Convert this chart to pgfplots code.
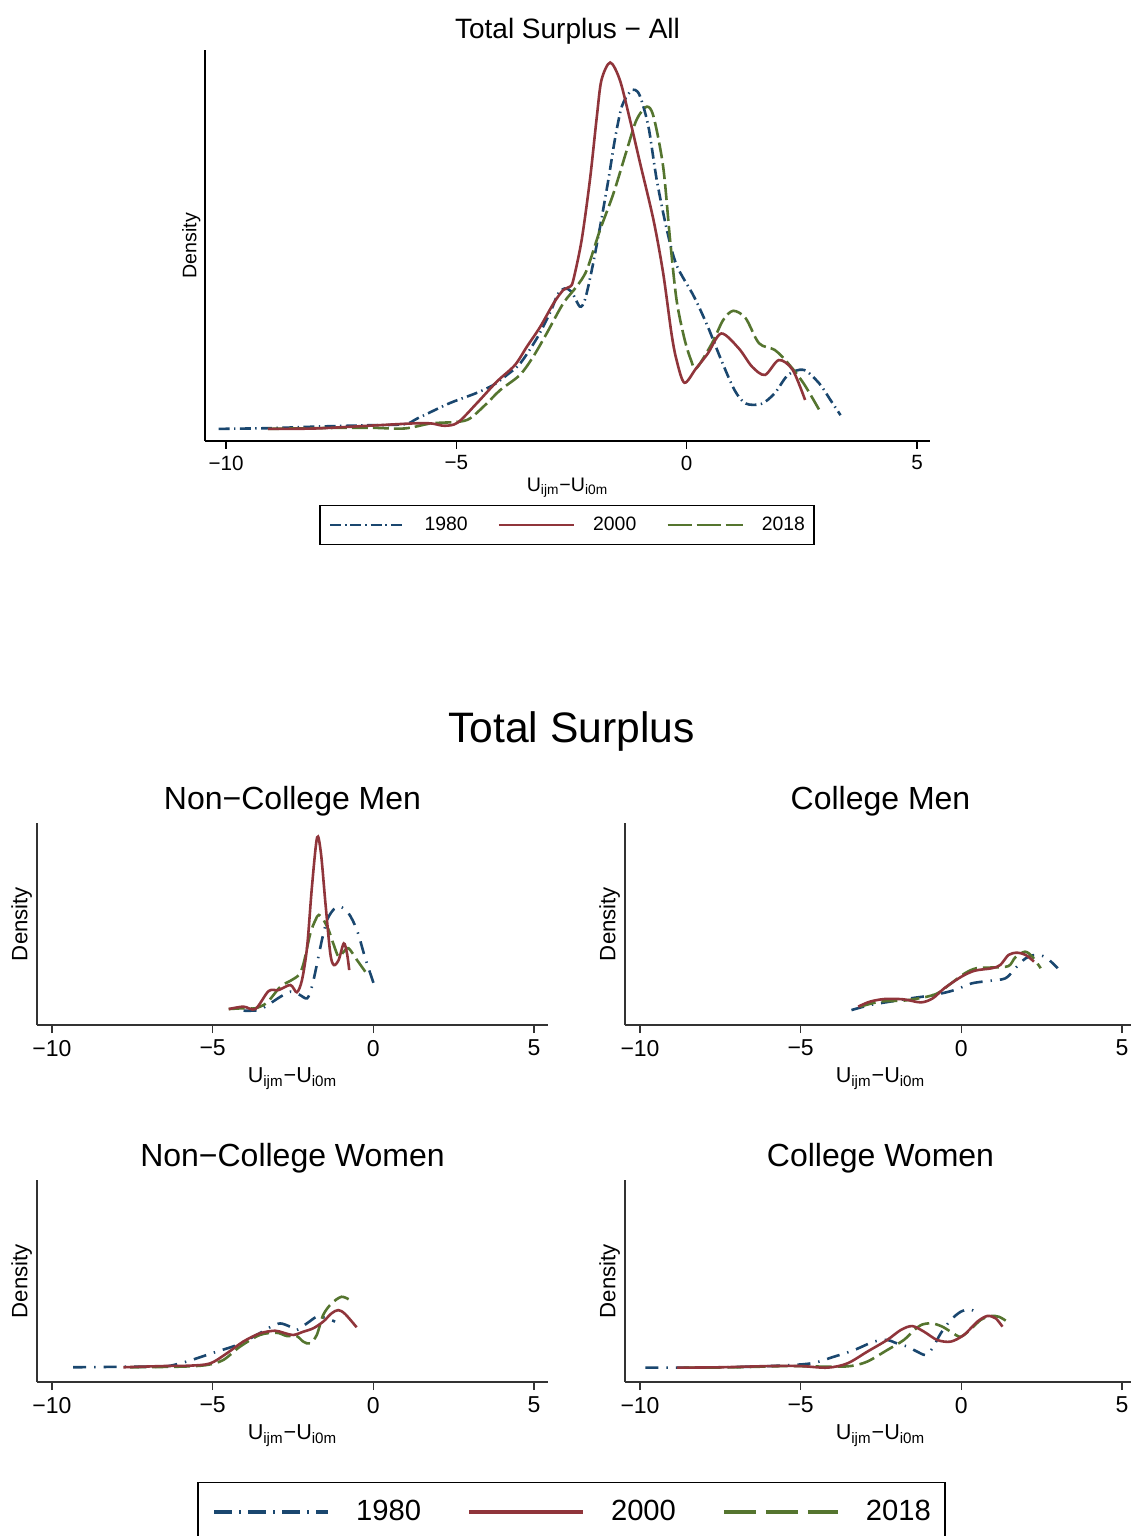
\documentclass[border=0pt]{standalone}
\usepackage{fontspec}
\setmainfont{Liberation Sans}
\usepackage{graphicx}
\usepackage{pgfplots}
\pgfplotsset{compat=1.18}

\definecolor{c1980}{RGB}{26,71,111}
\definecolor{c2000}{RGB}{144,53,59}
\definecolor{c2018}{RGB}{85,117,47}

\pgfplotsset{
  kd/.style={
    scale only axis,
    axis x line*=bottom, axis y line*=left,
    ymin=0, ymax=1, ytick=\empty,
    xtick={-10,-5,0,5}, xticklabels={−10,−5,0,5},
    tick align=outside,
    every axis title shift=0pt,
    ylabel={Density},
    xlabel={U\textsubscript{ijm}−U\textsubscript{i0m}},
  },
  bigpanel/.style={kd,
    width=362.5pt, height=195.5pt,
    xmin=-10.456, xmax=5.282,
    axis line style={black, line width=0.8pt},
    tick style={black, line width=0.8pt},
    major tick length=3.8pt,
    xticklabel style={font=\fontsize{10.3}{12}\selectfont},
    title style={at={(axis description cs:0.5,1.0307)}, anchor=base,
      font=\fontsize{14}{16}\selectfont},
    xlabel style={at={(axis description cs:0.5,-0.128)}, anchor=base,
      font=\fontsize{9.8}{12}\selectfont},
    ylabel style={at={(axis description cs:-0.012,0.5)}, anchor=base,
      font=\fontsize{9.8}{12}\selectfont},
  },
  smallpanel/.style={kd,
    width=255.5pt, height=101pt,
    xmin=-10.467, xmax=5.436,
    axis line style={black!80, line width=0.7pt},
    tick style={black!80, line width=0.7pt},
    major tick length=4pt,
    xticklabel style={font=\fontsize{11.5}{13}\selectfont},
    title style={at={(axis description cs:0.5,1.067)}, anchor=base,
      font=\fontsize{16}{19}\selectfont},
    xlabel style={at={(axis description cs:0.5,-0.287)}, anchor=base,
      font=\fontsize{10.8}{13}\selectfont},
    ylabel style={at={(axis description cs:-0.019,0.5)}, anchor=base,
      font=\fontsize{11.1}{13}\selectfont},
  },
  y1980/.style={c1980, line width=1.3pt, smooth, dash pattern=on 5.5pt off 2.2pt on 0.7pt off 2.2pt},
  y2000/.style={c2000, line width=1.3pt, smooth},
  y2018/.style={c2018, line width=1.3pt, smooth, dash pattern=on 8pt off 2.5pt},
  s1980/.style={c1980, line width=1.3pt, smooth, dash pattern=on 6.5pt off 4pt on 0.7pt off 4pt},
  s2000/.style={c2000, line width=1.3pt, smooth},
  s2018/.style={c2018, line width=1.3pt, smooth, dash pattern=on 8pt off 3pt},
}

\begin{document}
\begin{tikzpicture}
\useasboundingbox (0,0) rectangle (565pt,-768pt);

% ---- top panel: all
\begin{axis}[bigpanel, at={(102.5pt,-220.5pt)}, anchor=south west,
  title={Total Surplus − All},
  legend columns=3,
  legend style={at={(axis description cs:0.4993,-0.2148)}, anchor=center,
    draw=black, line width=0.6pt, inner xsep=4.5pt, inner ysep=5.5pt,
    font=\fontsize{9.7}{11}\selectfont, nodes={inner sep=0pt},
    /tikz/every odd column/.append style={column sep=9pt},
    /tikz/every even column/.append style={column sep=15pt}},
  legend image code/.code={\draw[#1] (0pt,0pt) -- (37.5pt,0pt);},
]
\addplot[y1980, forget plot] coordinates {
(-10.16,0.031) (-9.0,0.033) (-8.0,0.037) (-7.0,0.040) (-6.13,0.043) (-5.84,0.058)
(-5.16,0.096) (-4.58,0.122) (-4.20,0.143) (-3.90,0.169) (-3.61,0.199) (-3.23,0.267)
(-2.94,0.335) (-2.80,0.375) (-2.65,0.390) (-2.50,0.382) (-2.32,0.344) (-2.21,0.361)
(-2.06,0.437) (-1.88,0.548) (-1.70,0.668) (-1.56,0.770) (-1.41,0.855) (-1.23,0.893)
(-1.12,0.898) (-1.01,0.881) (-0.83,0.804) (-0.65,0.668) (-0.43,0.540) (-0.22,0.450)
(0.16,0.369) (0.46,0.292) (0.75,0.207) (1.04,0.130) (1.28,0.096)
(1.62,0.095) (1.91,0.122) (2.20,0.169) (2.54,0.182) (2.88,0.147) (3.12,0.105) (3.34,0.066)
};
\addplot[y2018, forget plot] coordinates {
(-9.09,0.031) (-8.0,0.033) (-6.91,0.034) (-6.13,0.032) (-5.55,0.045) (-4.97,0.049)
(-4.70,0.058) (-4.34,0.096) (-4.05,0.130) (-3.62,0.169) (-3.33,0.216) (-3.04,0.275)
(-2.68,0.352) (-2.39,0.395) (-2.17,0.437) (-1.88,0.540) (-1.59,0.633) (-1.30,0.744)
(-1.09,0.821) (-0.87,0.855) (-0.72,0.830) (-0.51,0.701) (-0.36,0.514) (-0.22,0.361)
(-0.05,0.262) (0.10,0.205) (0.21,0.186) (0.55,0.250) (0.79,0.309) (1.01,0.333)
(1.28,0.314) (1.57,0.250) (1.91,0.233) (2.20,0.199) (2.54,0.147) (2.88,0.079)
};
\addplot[y2000, forget plot] coordinates {
(-9.09,0.031) (-8.07,0.032) (-6.91,0.039) (-5.94,0.045) (-5.55,0.045) (-5.26,0.039)
(-4.97,0.047) (-4.56,0.096) (-4.12,0.152) (-3.73,0.194) (-3.47,0.241) (-3.18,0.292)
(-2.89,0.352) (-2.68,0.386) (-2.53,0.395) (-2.46,0.412) (-2.28,0.514) (-2.10,0.668)
(-1.95,0.830) (-1.85,0.923) (-1.66,0.968) (-1.45,0.923) (-1.23,0.821) (-1.01,0.710)
(-0.72,0.565) (-0.51,0.429) (-0.33,0.275) (-0.22,0.207) (-0.05,0.149) (0.20,0.185)
(0.46,0.224) (0.75,0.275) (1.13,0.237) (1.42,0.190) (1.70,0.169) (2.00,0.207)
(2.30,0.182) (2.57,0.105)
};
\addlegendimage{c1980, line width=1.25pt, dash pattern=on 5.5pt off 1.8pt on 1pt off 1.8pt}
\addlegendentry{1980}
\addlegendimage{c2000, line width=1.25pt}
\addlegendentry{2000}
\addlegendimage{c2018, line width=1.25pt, dash pattern=on 12pt off 2.5pt}
\addlegendentry{2018}
\end{axis}

\node[anchor=base, font=\fontsize{21.3}{25}\selectfont] at (285.75pt,-371pt) {Total Surplus};

% ---- non-college men
\begin{axis}[smallpanel, at={(18.5pt,-512.5pt)}, anchor=south west,
  title={Non−College Men}]
\addplot[s1980] coordinates {
(-4.04,0.071) (-3.57,0.074) (-3.21,0.107) (-2.89,0.140) (-2.58,0.165) (-2.30,0.150)
(-2.06,0.132) (-1.91,0.190) (-1.75,0.305) (-1.60,0.421) (-1.44,0.520) (-1.23,0.573)
(-1.03,0.586) (-0.77,0.553) (-0.51,0.470) (-0.25,0.330) (0.01,0.206)
};
\addplot[s2018] coordinates {
(-4.50,0.079) (-4.04,0.083) (-3.67,0.083) (-3.31,0.111) (-2.89,0.190) (-2.58,0.219)
(-2.32,0.248) (-2.17,0.305) (-1.96,0.454) (-1.80,0.520) (-1.70,0.545) (-1.55,0.520)
(-1.39,0.470) (-1.23,0.396) (-1.08,0.338) (-0.92,0.363) (-0.77,0.380) (-0.51,0.322)
(-0.25,0.264)
};
\addplot[s2000] coordinates {
(-4.50,0.079) (-4.04,0.091) (-3.67,0.079) (-3.26,0.168) (-2.95,0.173) (-2.58,0.198)
(-2.38,0.162) (-2.22,0.223) (-2.06,0.388) (-1.91,0.685) (-1.75,0.929) (-1.63,0.850)
(-1.49,0.602) (-1.34,0.355) (-1.23,0.297) (-1.08,0.322) (-0.92,0.404) (-0.82,0.355)
(-0.75,0.272)
};
\end{axis}

% ---- college men
\begin{axis}[smallpanel, at={(312.5pt,-512.5pt)}, anchor=south west,
  title={College Men}]
\addplot[s1980] coordinates {
(-3.42,0.074) (-2.84,0.099) (-2.21,0.116) (-1.58,0.132) (-0.84,0.149) (-0.21,0.173)
(0.32,0.206) (0.84,0.218) (1.37,0.231) (1.68,0.281) (2.00,0.330) (2.31,0.347)
(2.63,0.335) (3.00,0.281)
};
\addplot[s2018] coordinates {
(-3.15,0.091) (-2.52,0.116) (-1.79,0.121) (-1.16,0.137) (-0.74,0.157) (-0.32,0.206)
(0.11,0.256) (0.47,0.281) (1.00,0.285) (1.47,0.292) (1.68,0.335) (1.98,0.363)
(2.21,0.338) (2.47,0.281)
};
\addplot[s2000] coordinates {
(-3.21,0.091) (-2.84,0.116) (-2.37,0.129) (-1.79,0.127) (-1.26,0.112) (-0.89,0.132)
(-0.53,0.182) (0,0.239) (0.42,0.269) (0.95,0.281) (1.21,0.297) (1.47,0.347)
(1.74,0.358) (2.00,0.347) (2.26,0.314)
};
\end{axis}

% ---- non-college women
\begin{axis}[smallpanel, at={(18.5pt,-691pt)}, anchor=south west,
  title={Non−College Women}]
\addplot[s1980] coordinates {
(-9.34,0.073) (-8.61,0.074) (-7.57,0.076) (-6.54,0.076) (-6.02,0.092) (-5.50,0.117)
(-4.88,0.150) (-4.25,0.183) (-3.63,0.233) (-3.22,0.271) (-2.90,0.290) (-2.59,0.274)
(-2.39,0.257) (-2.07,0.290) (-1.76,0.323) (-1.50,0.318) (-1.19,0.299)
};
\addplot[s2018] coordinates {
(-7.57,0.073) (-6.02,0.076) (-5.19,0.084) (-4.67,0.109) (-4.15,0.175) (-3.53,0.233)
(-3.01,0.244) (-2.70,0.228) (-2.39,0.228) (-2.18,0.200) (-1.97,0.191) (-1.76,0.233)
(-1.56,0.332) (-1.30,0.389) (-0.99,0.422) (-0.73,0.406)
};
\addplot[s2000] coordinates {
(-7.78,0.073) (-6.54,0.079) (-5.71,0.081) (-5.08,0.092) (-4.56,0.142) (-4.05,0.200)
(-3.53,0.241) (-3.06,0.254) (-2.80,0.244) (-2.49,0.233) (-2.18,0.249) (-1.87,0.266)
(-1.56,0.299) (-1.30,0.340) (-1.09,0.356) (-0.88,0.337) (-0.52,0.271)
};
\end{axis}

% ---- college women
\begin{axis}[smallpanel, at={(312.5pt,-691pt)}, anchor=south west,
  title={College Women}]
\addplot[s1980] coordinates {
(-9.83,0.071) (-8.95,0.071) (-7.50,0.073) (-5.94,0.079) (-4.69,0.092) (-3.97,0.125)
(-3.34,0.158) (-2.72,0.200) (-2.31,0.208) (-2.00,0.191) (-1.68,0.175) (-1.37,0.150)
(-1.11,0.134) (-0.90,0.167) (-0.64,0.241) (-0.33,0.307) (-0.02,0.348) (0.24,0.360)
(0.45,0.348)
};
\addplot[s2018] coordinates {
(-8.64,0.071) (-6.98,0.073) (-5.42,0.079) (-4.17,0.076) (-3.45,0.079) (-2.93,0.101)
(-2.31,0.158) (-1.79,0.208) (-1.47,0.257) (-1.21,0.285) (-0.90,0.290) (-0.59,0.274)
(-0.28,0.244) (-0.02,0.224) (0.29,0.261) (0.60,0.307) (0.91,0.327) (1.17,0.323)
(1.38,0.304)
};
\addplot[s2000] coordinates {
(-8.85,0.071) (-7.50,0.073) (-5.94,0.079) (-5.01,0.079) (-4.17,0.071) (-3.55,0.092)
(-2.93,0.150) (-2.31,0.208) (-1.89,0.257) (-1.53,0.277) (-1.16,0.249) (-0.75,0.208)
(-0.33,0.200) (0.08,0.233) (0.50,0.299) (0.81,0.327) (1.07,0.315) (1.28,0.274)
};
\end{axis}

% ---- shared legend for the four panels
\begin{axis}[at={(285.75pt,-756pt)}, anchor=center, hide axis, scale only axis,
  width=20pt, height=10pt, xmin=0, xmax=1, ymin=0, ymax=1,
  legend columns=3,
  legend style={at={(0.5,0.5)}, anchor=center,
    draw=black, line width=0.6pt, inner xsep=7pt, inner ysep=9pt,
    font=\fontsize{14.6}{17}\selectfont, nodes={inner sep=0pt},
    /tikz/every odd column/.append style={column sep=13pt},
    /tikz/every even column/.append style={column sep=23pt}},
  legend image code/.code={\draw[#1] (0pt,0pt) -- (57pt,0pt);},
]
\addlegendimage{c1980, line width=2pt, dash pattern=on 9pt off 3.5pt on 1pt off 3.5pt}
\addlegendentry{1980}
\addlegendimage{c2000, line width=2pt}
\addlegendentry{2000}
\addlegendimage{c2018, line width=2pt, dash pattern=on 16pt off 5pt}
\addlegendentry{2018}
\end{axis}
\end{tikzpicture}
\end{document}
